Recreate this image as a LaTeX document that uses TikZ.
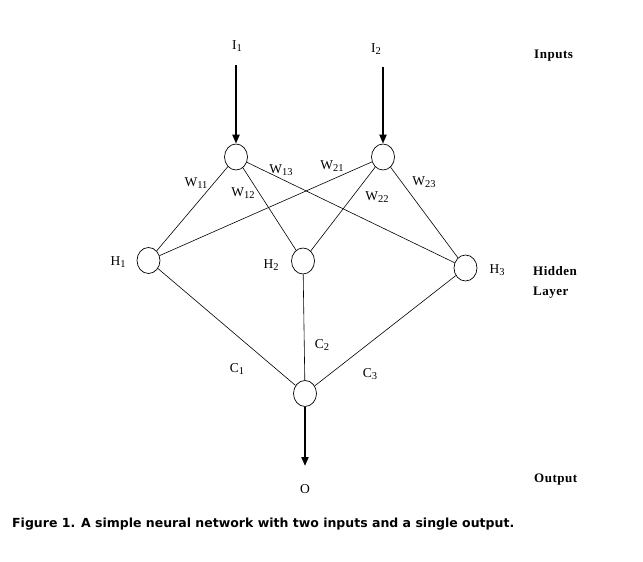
\documentclass[tikz,border=0pt]{standalone}
\usepackage{fontspec}
\setmainfont{Liberation Serif}
\newfontfamily\capfont{DejaVu Sans}
\newfontfamily\lblfont[LetterSpace=4]{Liberation Serif}
\usetikzlibrary{arrows.meta,shapes.geometric}
\newcommand\sbs[1]{\raisebox{-2.5pt}{\fontsize{10.5}{12}\selectfont#1}}
\begin{document}
\begin{tikzpicture}[x=1pt,y=-1pt,
  neuron/.style={draw,ellipse,minimum width=23pt,minimum height=26pt,inner sep=0pt,line width=0.7pt},
  link/.style={line width=0.6pt},
  feed/.style={line width=2pt,-{Triangle[length=9pt,width=7pt]}},
  lab/.style={font=\fontsize{13.5}{15}\selectfont,inner sep=0pt},
  side/.style={font=\lblfont\bfseries\fontsize{13}{20}\selectfont,inner sep=0pt,align=left}]
\useasboundingbox (0,0) rectangle (643,562);
% neurons
\node[neuron] (i1) at (236,157) {};
\node[neuron] (i2) at (383,157) {};
\node[neuron] (h1) at (148.5,260.5) {};
\node[neuron] (h2) at (303,261) {};
\node[neuron] (h3) at (465.5,268) {};
\node[neuron] (o) at (305,393.5) {};
% input and output ends
\coordinate (a1) at (236,65);
\coordinate (a2) at (383,67);
\coordinate (a3) at (305,466);
\draw[feed] (a1) -- (i1);
\draw[feed] (a2) -- (i2);
\draw[feed] (o.south) -- (a3);
% links
\foreach \s in {i1,i2}{\foreach \t in {h1,h2,h3}{\draw[link] (\s) -- (\t);}}
\foreach \s in {h1,h2,h3}{\draw[link] (\s) -- (o);}
% labels
\node[lab] (li1) at (237,46) {I\sbs{1}};
\node[lab] (li2) at (376,49) {I\sbs{2}};
\node[lab] (lw11) at (196,183) {W\sbs{11}};
\node[lab] (lw12) at (243,193) {W\sbs{12}};
\node[lab] (lw13) at (281,170) {W\sbs{13}};
\node[lab] (lw21) at (332,166) {W\sbs{21}};
\node[lab] (lw22) at (377,197) {W\sbs{22}};
\node[lab] (lw23) at (424,182) {W\sbs{23}};
\node[lab] (lh1) at (118,262) {H\sbs{1}};
\node[lab] (lh2) at (271,265) {H\sbs{2}};
\node[lab] (lh3) at (497,270) {H\sbs{3}};
\node[lab] (lc1) at (237,369) {C\sbs{1}};
\node[lab] (lc2) at (322,345) {C\sbs{2}};
\node[lab] (lc3) at (370,374) {C\sbs{3}};
\node[lab] (lo) at (305,489) {O};
\node[side,anchor=west] (inp) at (534,56) {Inputs};
\node[side,anchor=west] (hid) at (533,282) {Hidden\\Layer};
\node[side,anchor=west] (outp) at (534,480) {Output};
\node[font=\capfont\bfseries\fontsize{12.5}{14}\selectfont,anchor=west,inner sep=0pt] (cap) at (12,524) {Figure 1. A simple neural network with two inputs and a single output.};
\end{tikzpicture}
\end{document}
